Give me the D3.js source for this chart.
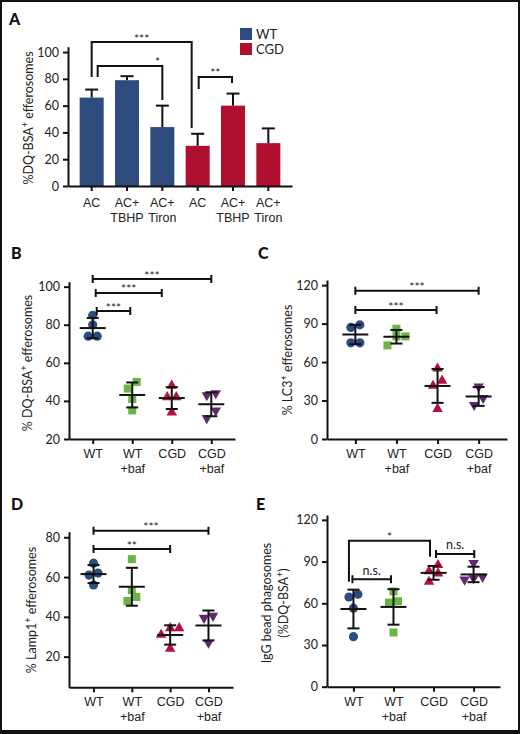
<!DOCTYPE html>
<html>
<head>
<meta charset="utf-8">
<script src="https://cdn.jsdelivr.net/npm/d3@7"></script>
<style>
  body { margin: 0; background: #fff; }
  svg { display: block; font-family: Lato, 'Open Sans', sans-serif; }
</style>
</head>
<body>
<svg id="fig" width="520" height="734"></svg>
<script>
// ---- data ----
// panel A: bar chart, mean + SEM
const aLabels = [['AC'], ['AC+', 'TBHP'], ['AC+', 'Tiron'], ['AC'], ['AC+', 'TBHP'], ['AC+', 'Tiron']];
const aGroups = ['WT', 'WT', 'WT', 'CGD', 'CGD', 'CGD'];
const aMeans = [66, 79, 44, 30, 60, 32];
const aErrors = [6, 3, 16, 9, 9, 11];
const aTicks = [0, 20, 40, 60, 80, 100];

// panels B-E: one value per replicate
const groupLabels = [['WT'], ['WT', '+baf'], ['CGD'], ['CGD', '+baf']];
const bValues = [[85, 80, 74, 74], [50, 46.5, 41, 35], [48, 42, 42, 34], [44, 43, 35, 31]];
const cValues = [[89, 87, 75, 75], [86, 80, 80, 73], [55, 45.5, 41.5, 23.5], [41, 32, 26.5]];
const dValues = [[67, 62, 61, 56], [69, 53.5, 50, 48], [34.3, 34.3, 31, 24], [40.5, 39.5, 27]];
const eValues = [[66.5, 64.5, 56.5, 36], [68.5, 61.5, 60.5, 39], [87.5, 83, 81.5, 75.5], [89, 79, 78, 77]];
const bTicks = [20, 40, 60, 80, 100];
const cTicks = [0, 30, 60, 90, 120];
const dTicks = [20, 40, 60, 80];
const eTicks = [0, 30, 60, 90, 120];

const barColors = { WT: '#2e4b7d', CGD: '#b0102f' };
const dotColors = ['#2c4d82', '#6cb544', '#b3103b', '#5c2a6d'];
const symbols = [d3.symbolCircle, d3.symbolSquare, d3.symbolTriangle, d3.symbolTriangle];
const symbolSizes = [66, 64, 48, 48];

const svg = d3.select('#fig');

// frame
svg.append('rect')
  .attr('x', 1).attr('y', 1).attr('width', 518).attr('height', 730)
  .attr('fill', 'none').attr('stroke', '#111').attr('stroke-width', 2);
svg.append('rect')
  .attr('x', 0).attr('y', 730).attr('width', 520).attr('height', 4)
  .attr('fill', '#111');

function styleAxis(g) {
  g.selectAll('.domain, .tick line').attr('stroke', '#111').attr('stroke-width', 2);
  g.selectAll('.tick text').attr('font-size', 12.5).attr('fill', '#222')
    .attr('font-family', 'Lato, sans-serif');
}

function panelLetter(text, x, y) {
  svg.append('text').attr('x', x).attr('y', y)
    .attr('font-size', 16).attr('font-weight', 900).attr('fill', '#111')
    .text(text);
}

// rotated y label, lines = [[main, sup, rest], ...]
function yLabel(lines, x, y) {
  lines.forEach((parts, i) => {
    const t = svg.append('text')
      .attr('transform', `translate(${x[i]},${y})rotate(-90)`)
      .attr('text-anchor', 'middle')
      .attr('font-size', 12.5).attr('fill', '#222');
    t.append('tspan').text(parts[0]);
    if (parts[1]) {
      t.append('tspan').attr('dy', -5).attr('font-size', 9).text(parts[1]);
      t.append('tspan').attr('dy', 5).text(parts[2]);
    }
  });
}

function xLabels(g, labels, dy) {
  g.selectAll('.tick').each(function(d) {
    const t = d3.select(this).append('text')
      .attr('text-anchor', 'middle').attr('fill', '#222')
      .attr('font-size', 12.5);
    labels[d].forEach((line, k) => {
      t.append('tspan').attr('x', 0).attr('y', dy + k * 15).text(line);
    });
  });
}

function drawBracket(x, y, b) {
  const xa = x(b.a) + (b.da || 0);
  const xb = x(b.b) + (b.db || 0);
  const yl = y(b.y);
  let path;
  if (b.type === 'leg') {
    path = `M${xa},${y(b.ya)}V${yl}H${xb}V${y(b.yb)}`;
  } else {
    path = `M${xa},${yl - 4}V${yl + 4}M${xa},${yl}H${xb}M${xb},${yl - 4}V${yl + 4}`;
  }
  svg.append('path').attr('d', path)
    .attr('fill', 'none').attr('stroke', '#111').attr('stroke-width', 2);
  const star = b.text.indexOf('*') >= 0;
  svg.append('text')
    .attr('x', b.tx !== undefined ? x(b.a) + b.tx : (xa + xb) / 2)
    .attr('y', star ? yl + 0.5 : yl - 4.5)
    .attr('text-anchor', 'middle')
    .attr('font-size', star ? 12 : 12.5)
    .attr('fill', '#222')
    .text(b.text);
}

// ---- panel A ----
(function() {
  const y = d3.scaleLinear().domain([0, 104]).range([186, 46.7]);
  const x = d3.scaleBand().domain(d3.range(aMeans.length))
    .range([68, 292]).paddingInner(0.32).paddingOuter(0.33);

  svg.selectAll('rect.bar')
    .data(aMeans)
    .enter()
    .append('rect')
    .attr('class', 'bar')
    .attr('x', (d, i) => x(i))
    .attr('width', x.bandwidth())
    .attr('y', d => y(d))
    .attr('height', d => y(0) - y(d))
    .attr('fill', (d, i) => barColors[aGroups[i]]);

  // upward error bars
  const errs = svg.append('g').attr('stroke', '#111').attr('stroke-width', 2);
  aMeans.forEach((m, i) => {
    const cx = x(i) + x.bandwidth() / 2;
    errs.append('line').attr('x1', cx).attr('x2', cx).attr('y1', y(m)).attr('y2', y(m + aErrors[i]));
    errs.append('line').attr('x1', cx - 6.5).attr('x2', cx + 6.5)
      .attr('y1', y(m + aErrors[i])).attr('y2', y(m + aErrors[i]));
  });

  const gy = svg.append('g').attr('transform', 'translate(68,0)')
    .call(d3.axisLeft(y).tickValues(aTicks).tickSize(5).tickSizeOuter(0).tickPadding(4));
  styleAxis(gy);
  const gx = svg.append('g').attr('transform', 'translate(0,186)')
    .call(d3.axisBottom(x).tickSize(5).tickSizeOuter(0).tickFormat(() => ''));
  styleAxis(gx);
  xLabels(gx, aLabels, 21);

  const xc = i => x(i) + x.bandwidth() / 2;
  [
    { a: 0, b: 3, y: 107.5, ya: 81.4, yb: 43.3, db: -6, type: 'leg', text: '***' },
    { a: 0, b: 2, y: 89.6, ya: 81.4, yb: 64.2, da: 6, type: 'leg', text: '*', tx: 66 },
    { a: 3, b: 4, y: 81.4, ya: 72.4, yb: 76.9, da: 1, db: -1, type: 'leg', text: '**' }
  ].forEach(b => drawBracket(xc, y, b));

  // legend
  const legend = svg.append('g').attr('transform', 'translate(240,28)');
  ['WT', 'CGD'].forEach((k, i) => {
    legend.append('rect').attr('x', 0).attr('y', i * 15).attr('width', 12).attr('height', 12)
      .attr('fill', barColors[k]);
    legend.append('text').attr('x', 16).attr('y', i * 15 + 10.5)
      .attr('font-size', 13).attr('fill', '#222').text(k);
  });

  yLabel([['%DQ-BSA', '+', ' efferosomes']], [33], 118);
  panelLetter('A', 9, 25);
})();

// ---- panels B-E ----
function swarm(vals, y, d) {
  const pts = vals.map(v => ({ v, py: y(v) })).sort((p, q) => q.py - p.py);
  const rows = [];
  pts.forEach(p => {
    const row = rows[rows.length - 1];
    if (row && Math.abs(p.py - row[0].py) < d) row.push(p);
    else rows.push([p]);
  });
  rows.forEach(row => row.forEach((p, k) => { p.dx = (k - (row.length - 1) / 2) * d; }));
  return pts;
}

function scatterPanel(cfg) {
  const y = d3.scaleLinear().domain(cfg.yDomain).range([cfg.bottom, cfg.top]);
  const x = d3.scalePoint().domain(d3.range(groupLabels.length))
    .range([cfg.left, cfg.right]).padding(cfg.pad);

  const gy = svg.append('g').attr('transform', `translate(${cfg.left},0)`)
    .call(d3.axisLeft(y).tickValues(cfg.ticks).tickSize(5).tickSizeOuter(0).tickPadding(4));
  styleAxis(gy);
  const gx = svg.append('g').attr('transform', `translate(0,${cfg.bottom})`)
    .call(d3.axisBottom(x).tickSize(5).tickSizeOuter(0).tickFormat(() => ''));
  styleAxis(gx);
  xLabels(gx, groupLabels, 19);

  cfg.values.forEach((vals, gi) => {
    const cx = x(gi);
    const sym = d3.symbol().type(symbols[gi]).size(symbolSizes[gi]);
    svg.append('g').selectAll('path')
      .data(swarm(vals, y, 9))
      .enter()
      .append('path')
      .attr('d', sym)
      .attr('fill', dotColors[gi])
      .attr('transform', p => `translate(${cx + p.dx},${p.py})${gi === 3 ? 'rotate(180)' : ''}`);

    // mean +/- SD
    const m = d3.mean(vals), sd = d3.deviation(vals);
    const lines = svg.append('g').attr('stroke', '#111').attr('stroke-width', 2);
    lines.append('line').attr('x1', cx).attr('x2', cx).attr('y1', y(m - sd)).attr('y2', y(m + sd));
    lines.append('line').attr('x1', cx - 13).attr('x2', cx + 13).attr('y1', y(m)).attr('y2', y(m));
    [m - sd, m + sd].forEach(v => {
      lines.append('line').attr('x1', cx - 6).attr('x2', cx + 6).attr('y1', y(v)).attr('y2', y(v));
    });
  });

  cfg.brackets.forEach(b => drawBracket(x, y, b));
  yLabel(cfg.yLabel, cfg.yLabelX, cfg.yLabelY);
  panelLetter(cfg.letter, cfg.letterX, cfg.letterY);
}

scatterPanel({
  letter: 'B', letterX: 11, letterY: 259,
  values: bValues, ticks: bTicks, yDomain: [20, 102.6],
  left: 69, right: 235, top: 281.7, bottom: 439, pad: 0.6,
  yLabel: [['% DQ-BSA', '+', ' efferosomes']], yLabelX: [32], yLabelY: 363,
  brackets: [
    { a: 0, b: 3, y: 104, text: '***' },
    { a: 0, b: 2, y: 96.7, da: 3, db: -10, text: '***' },
    { a: 0, b: 1, y: 87.2, da: 4, db: -2, text: '***' }
  ]
});

scatterPanel({
  letter: 'C', letterX: 258, letterY: 259,
  values: cValues, ticks: cTicks, yDomain: [0, 124],
  left: 327, right: 507, top: 280, bottom: 439, pad: 0.69,
  yLabel: [['% LC3', '+', ' efferosomes']], yLabelX: [292], yLabelY: 360,
  brackets: [
    { a: 0, b: 3, y: 115.7, text: '***' },
    { a: 0, b: 2, y: 100.6, db: -1, text: '***' }
  ]
});

scatterPanel({
  letter: 'D', letterX: 11, letterY: 510,
  values: dValues, ticks: dTicks, yDomain: [4.6, 82.8],
  left: 69, right: 233, top: 531.7, bottom: 687.3, pad: 0.64,
  yLabel: [['% Lamp1', '+', ' efferosomes']], yLabelX: [36], yLabelY: 610,
  brackets: [
    { a: 0, b: 3, y: 83.3, text: '***' },
    { a: 0, b: 2, y: 74.1, text: '**' }
  ]
});

scatterPanel({
  letter: 'E', letterX: 256, letterY: 510,
  values: eValues, ticks: eTicks, yDomain: [0, 123.5],
  left: 327, right: 500, top: 515, bottom: 686.7, pad: 0.66,
  yLabel: [['IgG bead phagosomes'], ['(%DQ-BSA', '+', ')']], yLabelX: [271, 288], yLabelY: 603,
  brackets: [
    { a: 0, b: 2, y: 105, ya: 75.5, yb: 93.5, da: -4.5, db: -3.5, type: 'leg', text: '*' },
    { a: 0, b: 1, y: 77.3, da: -1, db: -2.5, text: 'n.s.' },
    { a: 2, b: 3, y: 95.5, da: 2.5, db: 0.7, text: 'n.s.' }
  ]
});
</script>
</body>
</html>
